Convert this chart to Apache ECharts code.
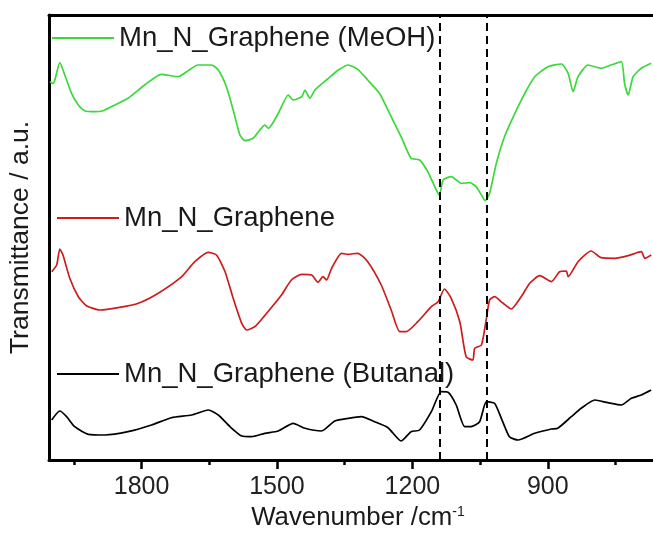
<!DOCTYPE html>
<html>
<head>
<meta charset="utf-8">
<script src="https://cdn.jsdelivr.net/npm/echarts@6/dist/echarts.min.js"></script>
<style>
html,body{margin:0;padding:0;background:#fff;}
#chart{width:653px;height:533px;}
</style>
</head>
<body>
<div id="chart"></div>
<script>
// Wavenumber axis (cm^-1), reversed
var xMin = 667, xMax = 2005;
var majorTicks = [900, 1200, 1500, 1800];
var minorTicks = [750, 1050, 1350, 1650, 1950];
var dashedLines = [1140, 1036];

var seriesNames = ['Mn_N_Graphene (MeOH)', 'Mn_N_Graphene', 'Mn_N_Graphene (Butanal)'];

// Mn_N_Graphene (MeOH)
var meohWn = [2003,1996,1992,1981,1970,1955,1940,1926,1903,1885,1859,1830,1793,1756,1719,1697,1675,1645,1630,1612,1597,1582,1571,1553,1538,1527,1519,1497,1475,1464,1445,1438,1427,1416,1386,1364,1342,1321,1299,1273,1247,1225,1203,1184,1166,1147,1140,1132,1114,1092,1073,1059,1047,1039,1029,1014,996,973,951,929,900,870,855,844,833,811,782,760,737,730,722,711,693,671];
var meohT  = [378.3,376.7,380,397.3,385,366.7,355,349.3,348.3,349.3,355,361.7,375,385.7,383.3,389.3,395,395,390,373.3,350,325,319.3,321.7,330,335,331.7,346.7,365,360,363.3,370,361.7,370,381.7,390,395,390.7,380,366.7,343.3,323.3,301.7,300,288.3,270,265,280,283.3,276.7,277.3,273.3,265,259.3,266.7,296.7,323.3,346.7,366.7,383.3,393.3,396,386.7,368.3,383.3,395,391.7,395,398.3,376.7,365,383.3,391.7,396.7];

// Mn_N_Graphene
var mnWn = [1999,1988,1981,1974,1959,1940,1922,1892,1852,1807,1763,1711,1682,1652,1634,1615,1597,1578,1567,1549,1520,1490,1468,1445,1423,1409,1398,1390,1379,1357,1343,1321,1299,1269,1247,1228,1214,1188,1158,1143,1129,1114,1095,1081,1066,1062,1047,1036,1029,1018,999,981,959,940,918,892,874,859,855,833,804,782,752,722,693,685,671];
var mnT  = [188.3,195,211,205,181.7,163.3,154.3,150,152.3,156.7,166.7,183.3,198.3,207.7,205,188.3,161.7,136.7,130,133.3,148.3,165,180,185.7,185,177.7,183.3,180,191.7,206.7,205.7,206.7,198.3,175,150,128.3,128.3,138.3,153.3,158.3,171,161.7,138.3,103.3,100,111.7,115,141.7,160,163.3,156.7,151,163.3,176.7,184.3,178.3,188.3,189,183.3,198.3,209,202.3,201.7,204.3,208.3,201.7,205];

// Mn_N_Graphene (Butanal)
var butWn = [1999,1981,1966,1948,1918,1881,1830,1778,1734,1689,1652,1630,1604,1578,1556,1527,1497,1464,1438,1401,1372,1342,1313,1284,1254,1225,1203,1184,1158,1136,1121,1103,1084,1070,1051,1036,1018,1003,985,966,929,892,878,848,826,796,767,737,715,693,671];
var butT  = [40,49,43.3,33.3,25.7,25,28.3,35,42.3,45,50,45,33.3,24,23.3,26.7,29,36.7,31.7,29,39,41.7,43.3,38.3,32.3,19,28.3,30,48.3,68.3,67.7,55,33.3,33.3,38.3,58.3,56.7,41.7,23.3,20,26.7,31,31.7,43.3,51.7,60,57.3,55,61.7,65,70];

var colors = ['#3ad83a', '#cc1c1c', '#000000'];

function pairs(xs, ys) { return xs.map(function (x, i) { return [x, ys[i]]; }); }

var FONT = '"Liberation Sans", Arial, sans-serif';
var chart = echarts.init(document.getElementById('chart'), null, {renderer: 'canvas'});

function legendFor(name, left, top) {
  return {
    data: [name], left: left, top: top, padding: 0, orient: 'horizontal',
    icon: 'rect', itemWidth: 62, itemHeight: 2, selectedMode: false,
    textStyle: {fontFamily: FONT, fontSize: 27.5, color: '#1a1a1a'}
  };
}

function lineSeries(i, xs, ys) {
  return {
    name: seriesNames[i], type: 'line', showSymbol: false, xAxisIndex: 0,
    smooth: 0.2,
    data: pairs(xs, ys), color: colors[i],
    lineStyle: {color: colors[i], width: 1.7}
  };
}

var option = {
  animation: false,
  backgroundColor: '#ffffff',
  grid: {left: 49, right: 0, top: 15, bottom: 73, containLabel: false, outerBoundsMode: 'none'},
  legend: [
    legendFor(seriesNames[0], 52, 24),
    legendFor(seriesNames[1], 57, 204),
    legendFor(seriesNames[2], 57, 360)
  ],
  xAxis: [
    {
      type: 'value', inverse: true, min: xMin, max: xMax, position: 'bottom',
      name: 'Wavenumber /cm{sup|-1}', nameLocation: 'middle', nameGap: 42,
      nameTextStyle: {fontFamily: FONT, fontSize: 25.8, color: '#1a1a1a', padding: [0, 0, 0, 14],
        rich: {sup: {fontFamily: FONT, fontSize: 14, color: '#1a1a1a', verticalAlign: 'top', padding: [0, 0, 12, 0]}}},
      axisLine: {show: true, lineStyle: {color: '#000', width: 3}},
      axisTick: {show: true, inside: false, length: 9, lineStyle: {color: '#000', width: 2.5}, customValues: majorTicks},
      axisLabel: {show: true, margin: 15, fontFamily: FONT, fontSize: 25, color: '#222', customValues: majorTicks,
        formatter: function (v) { return String(Math.round(v)); }},
      splitLine: {show: false}
    },
    {
      type: 'value', inverse: true, min: xMin, max: xMax, position: 'bottom',
      axisLine: {show: false},
      axisTick: {show: true, inside: false, length: 5, lineStyle: {color: '#000', width: 2.5}, customValues: minorTicks},
      axisLabel: {show: false},
      splitLine: {show: false}
    },
    {
      type: 'value', inverse: true, min: xMin, max: xMax, position: 'top',
      axisLine: {show: true, lineStyle: {color: '#000', width: 3}},
      axisTick: {show: false}, axisLabel: {show: false}, splitLine: {show: false}
    }
  ],
  yAxis: {
    type: 'value', min: 0, max: 445,
    name: 'Transmittance / a.u.', nameLocation: 'middle', nameGap: 15,
    nameTextStyle: {fontFamily: FONT, fontSize: 26.5, color: '#1a1a1a'},
    axisLine: {show: true, lineStyle: {color: '#000', width: 3}},
    axisTick: {show: false}, axisLabel: {show: false}, splitLine: {show: false}
  },
  series: [
    lineSeries(0, meohWn, meohT),
    lineSeries(1, mnWn, mnT),
    (function () {
      var s = lineSeries(2, butWn, butT);
      s.markLine = {
        silent: true, symbol: ['none', 'none'], label: {show: false},
        lineStyle: {color: '#000', type: [8, 5], width: 2},
        data: dashedLines.map(function (v) { return {xAxis: v}; })
      };
      return s;
    })()
  ]
};
chart.setOption(option);
</script>
</body>
</html>
